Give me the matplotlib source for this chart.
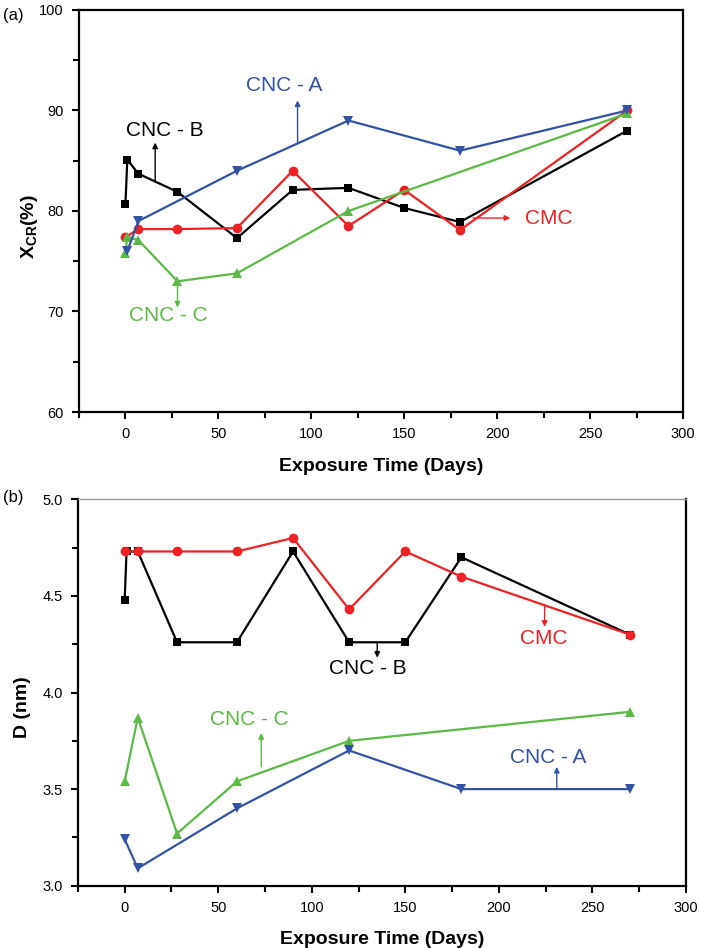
"""
Crystallinity index (a) and crystallite size (b) versus exposure time
for CNC-A, CNC-B, CNC-C and CMC.
"""
import matplotlib

matplotlib.use("Agg")
import matplotlib.pyplot as plt  # noqa: E402
from matplotlib.ticker import MultipleLocator  # noqa: E402

plt.rcParams["font.family"] = ["Liberation Sans", "DejaVu Sans"]
plt.rcParams["mathtext.fontset"] = "custom"
plt.rcParams["mathtext.rm"] = "Liberation Sans:bold"
plt.rcParams["mathtext.bf"] = "Liberation Sans:bold"

BLACK = "#000000"
RED = "#ec2227"
BLUE = "#3352a4"
GREEN = "#5cb947"

# ---- (a) crystallinity X_CR (%) ----
xa_b = [0, 1, 7, 28, 60, 90, 120, 150, 180, 270]
ya_b = [80.7, 85.1, 83.7, 81.9, 77.3, 82.1, 82.3, 80.3, 78.9, 88.0]
xa_cmc = [0, 7, 28, 60, 90, 120, 150, 180, 270]
ya_cmc = [77.4, 78.2, 78.2, 78.3, 84.0, 78.5, 82.1, 78.1, 90.0]
xa_a = [1, 7, 60, 120, 180, 270]
ya_a = [76.0, 79.0, 84.0, 89.0, 86.0, 90.0]
xa_c = [0, 1, 7, 28, 60, 120, 270]
ya_c = [75.8, 77.4, 77.1, 73.0, 73.8, 80.0, 89.7]

# ---- (b) crystallite size D (nm) ----
xb_b = [0, 1, 7, 28, 60, 90, 120, 150, 180, 270]
yb_b = [4.48, 4.73, 4.73, 4.26, 4.26, 4.73, 4.26, 4.26, 4.70, 4.30]
xb_cmc = [0, 7, 28, 60, 90, 120, 150, 180, 270]
yb_cmc = [4.73, 4.73, 4.73, 4.73, 4.80, 4.43, 4.73, 4.60, 4.30]
xb_a = [0, 7, 60, 120, 180, 270]
yb_a = [3.24, 3.09, 3.40, 3.70, 3.50, 3.50]
xb_c = [0, 7, 28, 60, 120, 270]
yb_c = [3.54, 3.87, 3.27, 3.54, 3.75, 3.90]


def style_axes(ax, ylim, ymajor, yminor, yfmt):
    ax.set_xlim(-25, 300)
    ax.set_ylim(*ylim)
    ax.xaxis.set_major_locator(MultipleLocator(50))
    ax.xaxis.set_minor_locator(MultipleLocator(25))
    ax.yaxis.set_major_locator(MultipleLocator(ymajor))
    ax.yaxis.set_minor_locator(MultipleLocator(yminor))
    ax.yaxis.set_major_formatter(yfmt)
    ax.tick_params(which="major", direction="out", length=5, width=1.5,
                   labelsize=10.5, pad=6)
    ax.tick_params(which="minor", direction="out", length=4, width=1.5)
    for s in ax.spines.values():
        s.set_linewidth(1.6)
    ax.set_xlabel("Exposure Time (Days)", fontsize=14, fontweight="bold")


def series(ax, x, y, color, marker, ms):
    ax.plot(x, y, color=color, lw=1.6, marker=marker, ms=ms,
            markeredgewidth=0, zorder=3)


def label(ax, text, color, xy_text, tail, tip):
    ax.text(*xy_text, text, color=color, fontsize=15, ha="center", va="center")
    ax.annotate("", xy=tip, xytext=tail,
                arrowprops=dict(arrowstyle="-|>", color=color, lw=1.0,
                                mutation_scale=8, shrinkA=0, shrinkB=0))


fig = plt.figure(figsize=(7.02, 9.48), dpi=100)
ax1 = fig.add_axes([0.1125, 0.5654, 0.8605, 0.4241])
ax2 = fig.add_axes([0.111, 0.0657, 0.866, 0.4076])

# (a)
series(ax1, xa_b, ya_b, BLACK, "s", 6)
series(ax1, xa_cmc, ya_cmc, RED, "o", 7)
series(ax1, xa_c, ya_c, GREEN, "^", 7.5)
series(ax1, xa_a, ya_a, BLUE, "v", 7.5)
style_axes(ax1, (60, 100), 10, 5, "{x:.0f}")
ax1.set_ylabel(r"X$_{\mathrm{CR}}$(%)", fontsize=14, fontweight="bold")
ax1.yaxis.set_label_coords(-0.064, 0.46)
ax1.xaxis.set_label_coords(0.5, -0.115)

label(ax1, "CNC - A", BLUE, (85.4, 92.5), (92.6, 86.7), (92.6, 91.0))
label(ax1, "CNC - B", BLACK, (21.4, 88.0), (16, 82.9), (16, 86.8))
label(ax1, "CNC - C", GREEN, (23.2, 69.6), (28, 72.6), (28, 70.4))
ax1.text(227.8, 79.3, "CMC", color=RED, fontsize=15, ha="center", va="center")
ax1.annotate("", xy=(207, 79.3), xytext=(187, 79.3),
             arrowprops=dict(arrowstyle="-|>", color=RED, lw=1.0,
                             mutation_scale=8, shrinkA=0, shrinkB=0))

# (b)
series(ax2, xb_b, yb_b, BLACK, "s", 6)
series(ax2, xb_cmc, yb_cmc, RED, "o", 7)
series(ax2, xb_c, yb_c, GREEN, "^", 7.5)
series(ax2, xb_a, yb_a, BLUE, "v", 7.5)
style_axes(ax2, (3.0, 5.0), 0.5, 0.25, "{x:.1f}")
ax2.spines["top"].set_color("#9a9a9a")
ax2.spines["top"].set_linewidth(1.0)
ax2.set_ylabel("D (nm)", fontsize=14, fontweight="bold")
ax2.yaxis.set_label_coords(-0.078, 0.462)
ax2.xaxis.set_label_coords(0.5, -0.118)

label(ax2, "CMC", RED, (223.9, 4.28), (224.5, 4.45), (224.5, 4.34))
label(ax2, "CNC - B", BLACK, (129.8, 4.126), (135, 4.26), (135, 4.18))
label(ax2, "CNC - C", GREEN, (66.6, 3.862), (73, 3.615), (73, 3.79))
label(ax2, "CNC - A", BLUE, (226.6, 3.666), (231, 3.50), (231, 3.615))

fig.text(0.004, 0.984, "(a)", fontsize=12, va="center")
fig.text(0.004, 0.475, "(b)", fontsize=12, va="center")

fig.savefig("out.png", dpi=100)
